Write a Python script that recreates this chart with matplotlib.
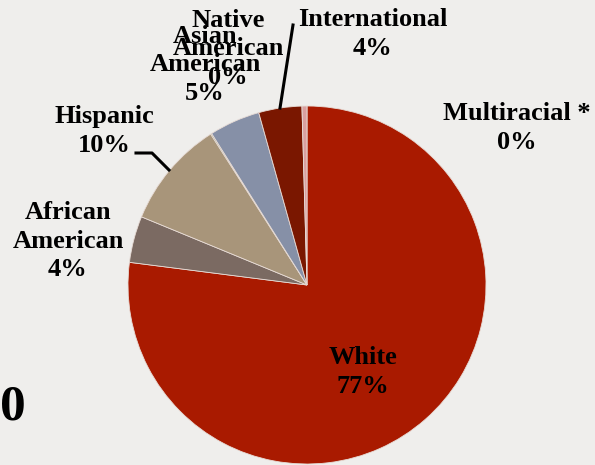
import matplotlib.pyplot as plt

# DATA (clockwise from 12 o'clock)
groups = ['White', 'African\nAmerican', 'Hispanic', 'Native\nAmerican',
          'Asian\nAmerican', 'International', 'Multiracial *']
shares = [77.1, 4.2, 9.75, 0.1, 4.6, 3.9, 0.45]
pct_labels = ['77%', '4%', '10%', '0%', '5%', '4%', '0%']
colors = ['#a91a00', '#7b6a62', '#a8957a', '#5f7040', '#8690a7', '#7a1700', '#d9a0a0']

# label centres in pixels (x, y from top)
label_pos = [(363, 372), (68, 241), (104, 131), (228, 49), (205, 65), (373, 34), (517, 128)]

W, H = 595, 465
cx, cy, r = 307, 285, 179

def px(x, y):
    return (x - cx) / r, (cy - y) / r

plt.rcParams['font.family'] = ['Liberation Serif', 'DejaVu Serif']

fig = plt.figure(figsize=(W / 100, H / 100), dpi=100)
fig.patch.set_facecolor('#efeeec')
ax = fig.add_axes([0, 0, 1, 1])
ax.set_facecolor('#efeeec')

ax.pie(shares, colors=colors, startangle=90, counterclock=False,
       wedgeprops=dict(edgecolor='#e8dcd6', linewidth=0.6))

ax.set_xlim(-cx / r, (W - cx) / r)
ax.set_ylim(-(H - cy) / r, cy / r)
ax.set_aspect('auto')
ax.axis('off')

for g, p, (lx, ly) in zip(groups, pct_labels, label_pos):
    x, y = px(lx, ly)
    ax.text(x, y, g + '\n' + p, ha='center', va='center', fontsize=19,
            fontweight='bold', linespacing=1.3, color='black')

# leader lines
p1, p2 = px(293, 25), px(280, 108)
ax.plot([p1[0], p2[0]], [p1[1], p2[1]], color='black', lw=2.2)
h1, h2, h3 = px(136, 153), px(152, 153), px(169, 170)
ax.plot([h1[0], h2[0], h3[0]], [h1[1], h2[1], h3[1]], color='black', lw=2.2)

# cut-off title fragment at bottom left
zx, zy = px(13, 408)
ax.text(zx, zy, '0', ha='center', va='center', fontsize=37, fontweight='bold')

fig.savefig('out.png', dpi=100, facecolor=fig.get_facecolor())
